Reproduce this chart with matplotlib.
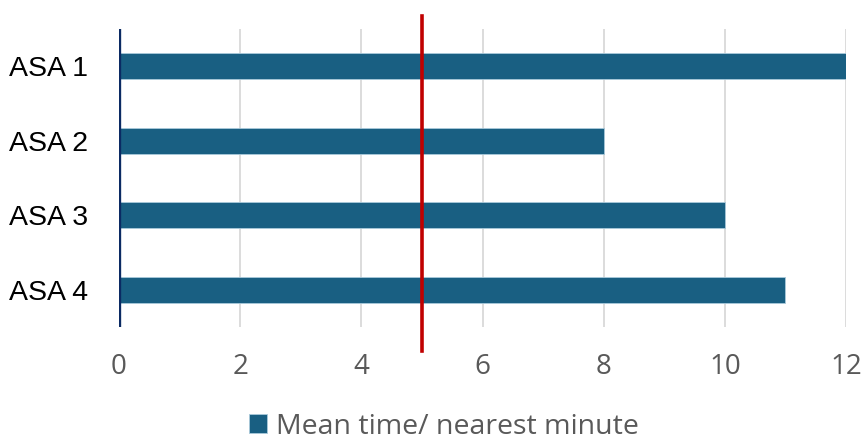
import matplotlib.pyplot as plt
import matplotlib.transforms as mtransforms

categories = ['ASA 1', 'ASA 2', 'ASA 3', 'ASA 4']
mean_time = [12, 8, 10, 11]
target = 5
series_name = 'Mean time/ nearest minute'
xticks = [0, 2, 4, 6, 8, 10, 12]

fig = plt.figure(figsize=(8.65, 4.42), dpi=100)
ax = fig.add_axes([119 / 865, 1 - 327 / 442, (846 - 119) / 865, (327 - 29) / 442])

ypos = list(range(len(categories)))
ax.barh(ypos, mean_time, height=0.35, color='#195F82', edgecolor='#A9CADB',
        linewidth=0.6, zorder=3, label=series_name)
ax.set_ylim(len(categories) - 0.5, -0.5)
ax.set_xlim(0, 12)

ax.set_yticks(ypos)
ax.set_yticklabels(categories, fontsize=20.5, family='Liberation Sans', color='black')
ax.set_xticks(xticks)
ax.set_xticklabels([str(t) for t in xticks], fontsize=20, family='Open Sans', color='#595959')
ax.tick_params(axis='x', length=0, pad=19)
ax.tick_params(axis='y', length=0, pad=22)

ax.grid(axis='x', color='#D9D9D9', linewidth=1.3, zorder=0)
for s in ax.spines.values():
    s.set_visible(False)
ax.axvline(0, color='#0B2A63', linewidth=2.4, zorder=4)

# target line extends past the plot area
trans = mtransforms.blended_transform_factory(ax.transData, ax.transAxes)
ax.plot([target, target], [1 + 13 / 298, -24 / 298], color='#C00000', linewidth=2.6,
        transform=trans, clip_on=False, zorder=5)

leg = fig.legend(loc='lower center', bbox_to_anchor=(0.513, -0.055), frameon=False,
                 handlelength=0.65, handleheight=0.65, handletextpad=0.3,
                 prop={'family': 'Open Sans', 'size': 20.5})
for t in leg.get_texts():
    t.set_color('#595959')

fig.savefig('out.png', dpi=100)
